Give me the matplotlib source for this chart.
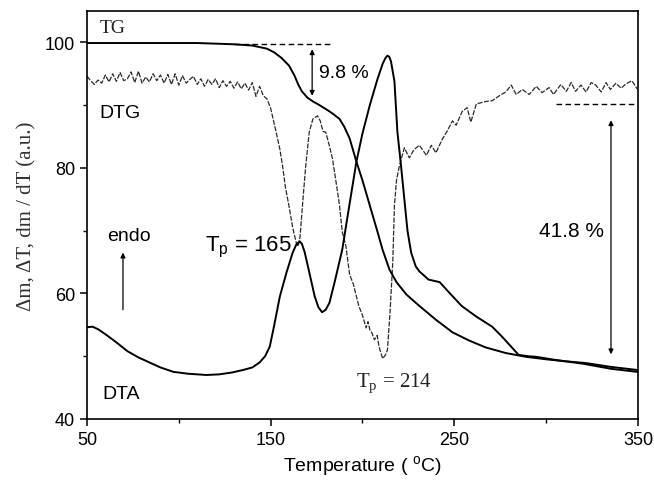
import matplotlib
matplotlib.use("Agg")
import matplotlib.pyplot as plt

# TG curve (mass loss)
tg_t = [50, 80, 110, 130, 140, 148, 152, 156, 160, 163, 165, 167, 170, 173, 176.6,
        181, 184, 187.5, 190, 193, 196.7, 200, 204, 208, 211, 214.7, 218.5, 224,
        231, 240, 249, 258, 267, 278, 289, 300, 310, 321.7, 335, 349.5]
tg_v = [99.9, 99.9, 99.9, 99.7, 99.5, 99.0, 98.4, 97.5, 96.3, 94.7, 93.3, 92.2,
        91.2, 90.6, 90.0, 89.2, 88.6, 87.8, 86.6, 84.7, 81.0, 78.0, 74.0, 70.0,
        66.9, 63.8, 61.8, 59.8, 58.0, 55.8, 53.8, 52.5, 51.4, 50.5, 49.9, 49.5,
        49.2, 48.9, 48.3, 47.8]

# DTA curve
dta_t = [50, 53, 56, 60, 66, 72, 78, 84, 90, 97, 105, 115, 122, 129, 135, 140,
         144, 147, 149.5, 152, 155, 158.7, 162, 164, 165.8, 167, 168.5, 171, 174,
         176, 178, 180, 182, 185, 189, 192, 196.7, 200, 204, 208, 211, 212.5,
         213.6, 214.6, 215.5, 217.4, 219, 221, 222.8, 224.5, 226.5, 229, 231, 236,
         242, 247, 254, 262, 270.6, 276, 281, 285, 290, 294.5, 305, 320, 335, 349.5]
dta_v = [54.6, 54.7, 54.3, 53.5, 52.2, 50.8, 49.8, 49.0, 48.2, 47.5, 47.2, 47.0,
         47.1, 47.4, 47.8, 48.2, 49.0, 50.0, 51.5, 55.0, 59.5, 63.4, 66.5, 67.8,
         68.3, 67.9, 66.6, 63.4, 59.5, 57.8, 57.0, 57.4, 58.5, 62.0, 67.0, 72.5,
         81.0, 85.5, 90.0, 94.0, 96.6, 97.5, 97.9, 97.7, 97.0, 93.8, 85.8, 80.3,
         75.0, 70.0, 66.5, 64.3, 63.5, 62.2, 61.8, 60.2, 58.0, 56.3, 54.7, 53.1,
         51.5, 50.2, 50.0, 49.9, 49.4, 48.8, 48.0, 47.5]

# DTG curve (noisy derivative)
dtg_t = [50, 52, 54, 56, 58, 60, 62, 64, 66, 68, 70, 72, 74, 76, 78, 80, 82, 84,
         86, 88, 90, 92, 94, 96, 98, 100, 102, 104, 106, 108, 110, 112, 114, 116,
         118, 120, 122, 124, 126, 128, 130, 132, 134, 136, 138, 140, 142, 144,
         146, 148, 150, 152, 153, 155, 156.5, 158, 160, 162, 164, 165, 166,
         167.6, 169, 171, 173, 175.5, 177, 178.5, 180, 182, 183.7, 186, 187.5,
         189, 191, 193, 195, 198, 200, 202, 203, 204, 205, 206.5, 208, 209, 211,
         212.5, 213.6, 215, 216.5, 217.4, 218.5, 220, 222.8, 225.5, 228, 231,
         234.8, 237.5, 240, 243.5, 246, 249, 251, 254.3, 257, 259, 262, 267.4,
         270.6, 274.5, 278, 281, 283.7, 287, 290.8, 294.6, 297.8, 301.6, 304, 308,
         311, 313.6, 316, 319, 321.7, 324.5, 327, 330, 332.6, 335, 338, 340.8,
         343.5, 346.7, 349.5]
dtg_v = [94.6, 93.9, 93.3, 94.0, 93.5, 94.8, 93.7, 95.0, 93.8, 95.2, 93.9, 94.2,
         95.3, 93.6, 95.4, 93.5, 94.5, 93.7, 95.0, 93.9, 94.8, 93.5, 94.9, 93.3,
         95.0, 93.2, 94.7, 93.5, 94.1, 94.6, 93.3, 94.2, 93.0, 94.1, 93.3, 94.2,
         92.8, 93.9, 93.0, 93.8, 92.7, 93.7, 92.6, 93.5, 92.4, 93.6, 91.4, 93.0,
         91.5, 91.0, 89.5, 87.0, 85.7, 83.0, 80.3, 77.0, 73.9, 70.5, 68.0, 67.5,
         69.0, 75.0, 80.0, 85.7, 87.8, 88.3, 87.5, 85.8, 85.7, 83.5, 81.4, 77.0,
         74.0, 69.8, 67.5, 63.0, 61.5, 58.0, 56.5, 54.5, 55.5, 54.2, 53.8, 52.6,
         53.3, 51.5, 49.6, 50.2, 51.0, 57.0, 65.0, 74.0, 78.0, 80.2, 83.2, 81.6,
         82.9, 83.6, 82.0, 83.6, 82.4, 84.6, 85.8, 87.5, 86.8, 89.0, 89.6, 87.3,
         90.2, 90.6, 90.7, 91.5, 92.1, 93.2, 91.7, 92.5, 91.7, 93.0, 92.0, 92.8,
         91.7, 93.3, 92.2, 93.6, 92.2, 93.2, 92.1, 93.6, 93.2, 92.1, 93.6, 92.5,
         93.5, 92.7, 93.4, 93.9, 92.6]

x_ticks = [50, 150, 250, 350]
y_ticks = [40, 60, 80, 100]

sans = "Liberation Sans"
serif = "Liberation Serif"

fig = plt.figure(figsize=(6.54, 4.81), dpi=100)
ax = fig.add_axes([0.133, 0.127, 0.8425, 0.848])

ax.plot(dtg_t, dtg_v, color="#2a2a2a", lw=0.9, ls=(0, (4, 1.2)))
ax.plot(tg_t, tg_v, color="black", lw=1.4)
ax.plot(dta_t, dta_v, color="black", lw=1.4)

# mass loss markers
ax.plot([130, 184], [99.8, 99.8], color="black", lw=1.0, ls=(0, (4, 2.5)))
ax.plot([305.4, 347.8], [90.2, 90.2], color="black", lw=1.0, ls=(0, (4, 2.5)))
ax.annotate("", xy=(172.6, 98.9), xytext=(172.6, 91.5),
            arrowprops=dict(arrowstyle="<|-|>", color="black", lw=0.9,
                            mutation_scale=7, shrinkA=0, shrinkB=0))
ax.annotate("", xy=(335.3, 87.6), xytext=(335.3, 50.3),
            arrowprops=dict(arrowstyle="<|-|>", color="black", lw=0.9,
                            mutation_scale=7, shrinkA=0, shrinkB=0))
ax.annotate("", xy=(69.6, 66.5), xytext=(69.6, 57.4),
            arrowprops=dict(arrowstyle="-|>", color="black", lw=0.9,
                            mutation_scale=7, shrinkA=0, shrinkB=0))

ax.text(57, 102.3, "TG", family=serif, fontsize=14, va="center", color="#222222")
ax.text(57, 88.8, "DTG", family=sans, fontsize=14, va="center")
ax.text(58.5, 44, "DTA", family=sans, fontsize=14, va="center")
ax.text(61, 69.2, "endo", family=sans, fontsize=14, va="center")
ax.text(176.5, 95.2, "9.8 %", family=sans, fontsize=14, va="center")
ax.text(296, 70, "41.8 %", family=sans, fontsize=15, va="center")
ax.text(114, 67.5, r"T$_{\mathregular{p}}$ = 165", family=sans, fontsize=16,
        va="center")
ax.text(196.5, 45.8, r"T$_{\mathregular{p}}$ = 214", family=serif, fontsize=15,
        va="center", color="#222222")

ax.set_xlim(50, 350)
ax.set_ylim(40, 105)
ax.set_xticks(x_ticks)
ax.set_xticks([100, 200, 300], minor=True)
ax.set_yticks(y_ticks)
ax.set_yticks([50, 70, 90], minor=True)
ax.tick_params(which="major", length=5, width=1.1, direction="out")
ax.tick_params(which="minor", length=3, width=1.0, direction="out")
for lab in ax.get_xticklabels() + ax.get_yticklabels():
    lab.set_family(sans)
    lab.set_fontsize(13)
for s in ax.spines.values():
    s.set_linewidth(1.2)

ax.set_xlabel(r"Temperature ( $^{\mathregular{o}}$C)", family=sans, fontsize=14,
              labelpad=4)
ax.set_ylabel("\u0394m, \u0394T, dm / dT (a.u.)", family=serif, fontsize=15,
              labelpad=6, color="#333333")

fig.savefig("out.png", dpi=100)
